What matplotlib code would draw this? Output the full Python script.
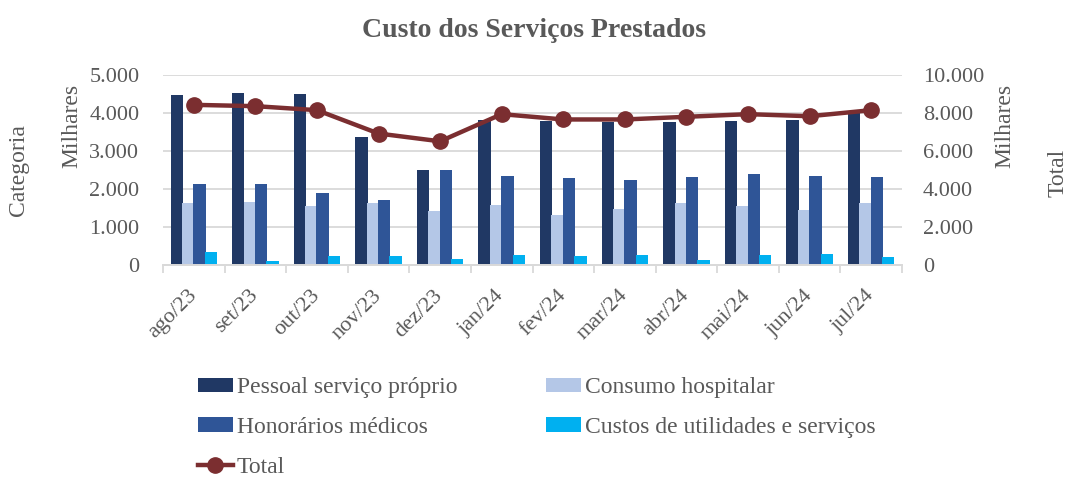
import numpy as np
import matplotlib
matplotlib.use("Agg")
import matplotlib.pyplot as plt
from matplotlib.ticker import FuncFormatter, MultipleLocator, FixedLocator

plt.rcParams['font.family'] = ['Liberation Serif', 'DejaVu Serif']

meses = ['ago/23', 'set/23', 'out/23', 'nov/23', 'dez/23', 'jan/24',
         'fev/24', 'mar/24', 'abr/24', 'mai/24', 'jun/24', 'jul/24']

pessoal = [4475, 4530, 4495, 3380, 2505, 3810, 3800, 3765, 3765, 3785, 3810, 3990]
consumo = [1620, 1650, 1560, 1630, 1430, 1590, 1315, 1465, 1620, 1550, 1450, 1620]
honorarios = [2125, 2120, 1905, 1720, 2490, 2345, 2300, 2240, 2320, 2400, 2345, 2320]
utilidades = [330, 100, 240, 240, 150, 265, 245, 265, 125, 265, 285, 220]
total = [8430, 8360, 8150, 6920, 6510, 7940, 7660, 7660, 7800, 7940, 7830, 8150]

cor_texto = '#595959'
cor_grade = '#d9d9d9'

def milhar(v, pos):
    return f'{int(v):,}'.replace(',', '.')

fig = plt.figure(figsize=(10.68, 4.79), dpi=100)
ax = fig.add_axes([0.1526, 0.4468, 0.6920, 0.3966])
ax2 = ax.twinx()

x = np.arange(len(meses))
step = 0.185
w = 0.20
series = [
    (pessoal, '#203864', 'Pessoal serviço próprio'),
    (consumo, '#b4c7e7', 'Consumo hospitalar'),
    (honorarios, '#2f5597', 'Honorários médicos'),
    (utilidades, '#00b0f0', 'Custos de utilidades e serviços'),
]
barras = []
for i, (vals, cor, nome) in enumerate(series):
    b = ax.bar(x + (i - 1.5) * step, vals, width=w, color=cor, label=nome, zorder=2)
    barras.append(b)

linha, = ax2.plot(x, total, color='#7b2e30', lw=3.2, marker='o', ms=11,
                  label='Total', zorder=5)

ax.set_xlim(-0.5, len(meses) - 0.5)
ax.set_ylim(0, 5000)
ax2.set_ylim(0, 10000)
ax.yaxis.set_major_locator(MultipleLocator(1000))
ax2.yaxis.set_major_locator(MultipleLocator(2000))
ax.yaxis.set_major_formatter(FuncFormatter(milhar))
ax2.yaxis.set_major_formatter(FuncFormatter(milhar))

ax.grid(axis='y', color=cor_grade, lw=1.3, zorder=0)
ax.set_axisbelow(True)
ax2.set_zorder(ax.get_zorder() + 1)
ax2.patch.set_visible(False)

for a in (ax, ax2):
    for s in ['top', 'left', 'right']:
        a.spines[s].set_visible(False)
    a.spines['bottom'].set_color(cor_grade)
    a.spines['bottom'].set_linewidth(1.3)
    a.tick_params(axis='y', length=0, labelsize=16, labelcolor=cor_texto)
ax.tick_params(axis='y', pad=17)
ax2.tick_params(axis='y', pad=15)

ax.set_xticks(x)
ax.set_xticklabels(meses, rotation=45, ha='right', va='center',
                   rotation_mode='anchor', fontsize=16, color=cor_texto)
ax.tick_params(axis='x', which='major', length=0, pad=20)
ax.xaxis.set_minor_locator(FixedLocator(np.arange(-0.5, len(meses), 1)))
ax.tick_params(axis='x', which='minor', length=6, color=cor_grade, width=1.3)
ax2.tick_params(axis='x', length=0)

fig.text(0.0674, 0.737, 'Milhares', rotation=90, ha='center', va='center',
         fontsize=17, color=cor_texto)
fig.text(0.941, 0.737, 'Milhares', rotation=90, ha='center', va='center',
         fontsize=17, color=cor_texto)
fig.text(0.0169, 0.645, 'Categoria', rotation=90, ha='center', va='center',
         fontsize=17, color=cor_texto)
fig.text(0.9906, 0.64, 'Total', rotation=90, ha='center', va='center',
         fontsize=17, color=cor_texto)

fig.suptitle('Custo dos Serviços Prestados', x=0.5, y=0.962, fontsize=20,
             fontweight='bold', color=cor_texto)

handles = [barras[0], barras[2], linha, barras[1], barras[3]]
labels = [h.get_label() for h in handles]
fig.legend(handles, labels, ncol=2, loc='upper left', bbox_to_anchor=(0.185, 0.213),
           frameon=False, fontsize=17, labelcolor=cor_texto, handlelength=1.5,
           handleheight=0.55, handletextpad=0.15, columnspacing=3.76,
           labelspacing=0.8, borderaxespad=0, borderpad=0)

fig.savefig('out.png', dpi=100)
